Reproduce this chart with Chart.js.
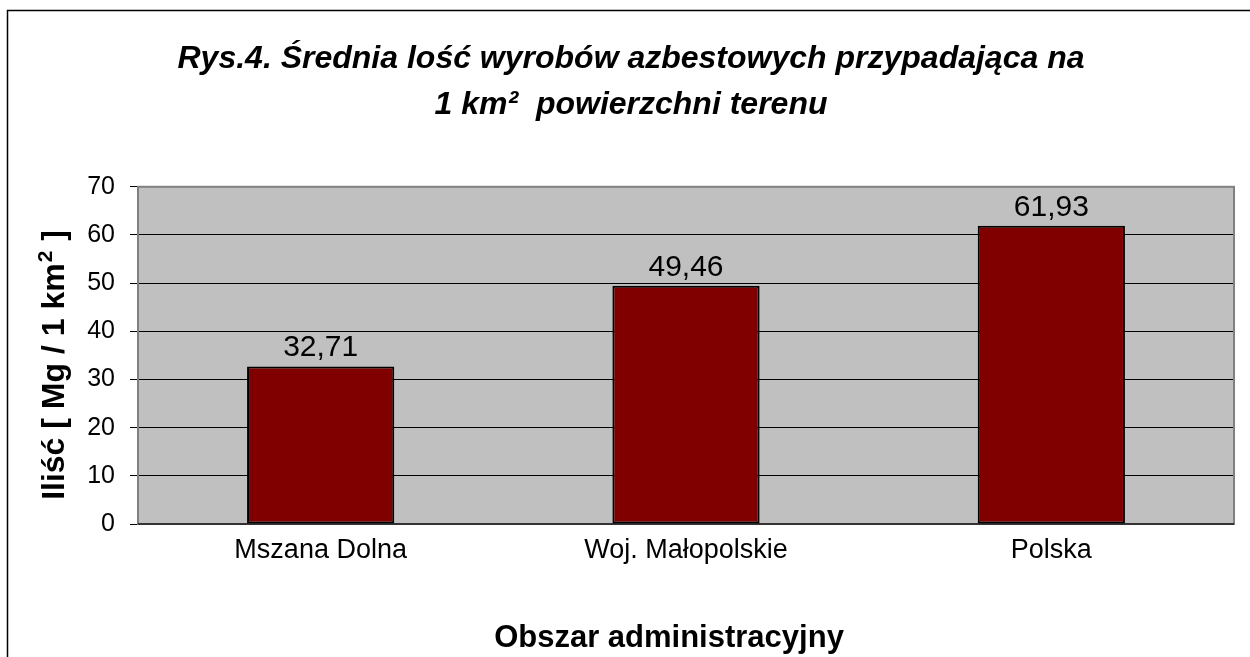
<!DOCTYPE html>
<html>
<head>
<meta charset="utf-8">
<script src="https://cdn.jsdelivr.net/npm/chart.js@4/dist/chart.umd.min.js"></script>
<style>
  html, body { margin: 0; padding: 0; background: #fff; }
  canvas { display: block; }
</style>
</head>
<body>
<canvas id="barChart" width="1250" height="657"></canvas>
<script>
var categories = ['Mszana Dolna', 'Woj. Małopolskie', 'Polska'];
var values = [32.71, 49.46, 61.93];
var yTicks = [0, 10, 20, 30, 40, 50, 60, 70];

var titleLines = ['Rys.4. Średnia lość wyrobów azbestowych przypadająca na', '1 km\u00B2  powierzchni terenu'];
var yTitleParts = ['Iliść [ Mg / 1 km', '2', ' ]'];
var xTitle = 'Obszar administracyjny';

var fontFamily = 'Arial, "Liberation Sans", sans-serif';

function fmt(v) {
    return v.toFixed(2).replace('.', ',');
}

// background, outer frame and grey plot area
var framePlugin = {
    id: 'frame',
    beforeDraw: function (chart) {
        var ctx = chart.ctx, a = chart.chartArea;
        ctx.save();
        ctx.fillStyle = '#ffffff';
        ctx.fillRect(0, 0, chart.width, chart.height);
        ctx.strokeStyle = '#000000';
        ctx.lineWidth = 1.5;
        ctx.beginPath();
        ctx.moveTo(7.5, chart.height + 2);
        ctx.lineTo(7.5, 10.5);
        ctx.lineTo(chart.width + 2, 10.5);
        ctx.stroke();
        ctx.fillStyle = '#c0c0c0';
        ctx.fillRect(a.left, a.top, a.right - a.left, a.bottom - a.top);
        ctx.restore();
    },
    beforeDatasetsDraw: function (chart) {
        var ctx = chart.ctx, a = chart.chartArea;
        ctx.save();
        ctx.strokeStyle = '#808080';
        ctx.lineWidth = 2;
        ctx.strokeRect(a.left, a.top, a.right - a.left, a.bottom - a.top);
        ctx.strokeStyle = '#333333';
        ctx.beginPath();
        ctx.moveTo(a.left, a.bottom);
        ctx.lineTo(a.right, a.bottom);
        ctx.stroke();
        ctx.restore();
    }
};

// value labels over the bars + axis titles
var labelPlugin = {
    id: 'labels',
    afterDatasetsDraw: function (chart) {
        var ctx = chart.ctx;
        var meta = chart.getDatasetMeta(0);
        ctx.save();
        ctx.fillStyle = '#000000';
        ctx.font = '30px ' + fontFamily;
        ctx.textAlign = 'center';
        ctx.textBaseline = 'alphabetic';
        meta.data.forEach(function (bar, i) {
            ctx.fillText(fmt(values[i]), bar.x, bar.y - 10);
        });

        ctx.font = 'bold 31px ' + fontFamily;
        ctx.fillText(xTitle, 669, 647);

        // rotated y title with a real superscript 2
        var mainFont = 'bold 32px ' + fontFamily;
        var supFont = 'bold 21px ' + fontFamily;
        ctx.font = mainFont;
        var w0 = ctx.measureText(yTitleParts[0]).width;
        var w2 = ctx.measureText(yTitleParts[2]).width;
        ctx.font = supFont;
        var w1 = ctx.measureText(yTitleParts[1]).width + 2;
        var total = w0 + w1 + w2;
        ctx.translate(64, 365);
        ctx.rotate(-Math.PI / 2);
        ctx.textAlign = 'left';
        var x = -total / 2;
        ctx.font = mainFont;
        ctx.fillText(yTitleParts[0], x, 0);
        ctx.font = supFont;
        ctx.fillText(yTitleParts[1], x + w0 + 1, -12);
        ctx.font = mainFont;
        ctx.fillText(yTitleParts[2], x + w0 + w1, 0);
        ctx.restore();
    }
};

var ctx = document.getElementById('barChart').getContext('2d');
var barChart = new Chart(ctx, {
    type: 'bar',
    data: {
        labels: categories,
        datasets: [{
            data: values,
            backgroundColor: '#800000',
            borderColor: '#000000',
            borderWidth: 2,
            borderSkipped: false,
            categoryPercentage: 1,
            barPercentage: 0.403
        }]
    },
    options: {
        responsive: false,
        animation: false,
        devicePixelRatio: 1,
        layout: {
            padding: { left: 28, right: 16, top: 0, bottom: 0 }
        },
        plugins: {
            legend: { display: false },
            tooltip: { enabled: false },
            title: {
                display: true,
                text: titleLines,
                color: '#000000',
                font: { family: fontFamily, size: 32, weight: 'bold', style: 'italic', lineHeight: 1.45 },
                padding: { top: 36, bottom: 58 }
            }
        },
        scales: {
            x: {
                grid: { display: false },
                border: { display: false },
                ticks: {
                    color: '#000000',
                    font: { family: fontFamily, size: 27 },
                    padding: 2
                },
                afterFit: function (scale) { scale.height = 133; }
            },
            y: {
                min: 0,
                max: 70,
                afterBuildTicks: function (scale) {
                    scale.ticks = yTicks.map(function (v) { return { value: v }; });
                },
                grid: {
                    color: '#000000',
                    lineWidth: 1,
                    tickLength: 8,
                    drawTicks: true
                },
                border: { display: false },
                ticks: {
                    color: '#000000',
                    font: { family: fontFamily, size: 25 },
                    padding: 15
                },
                afterFit: function (scale) { scale.width = 110; }
            }
        }
    },
    plugins: [framePlugin, labelPlugin]
});
</script>
</body>
</html>
